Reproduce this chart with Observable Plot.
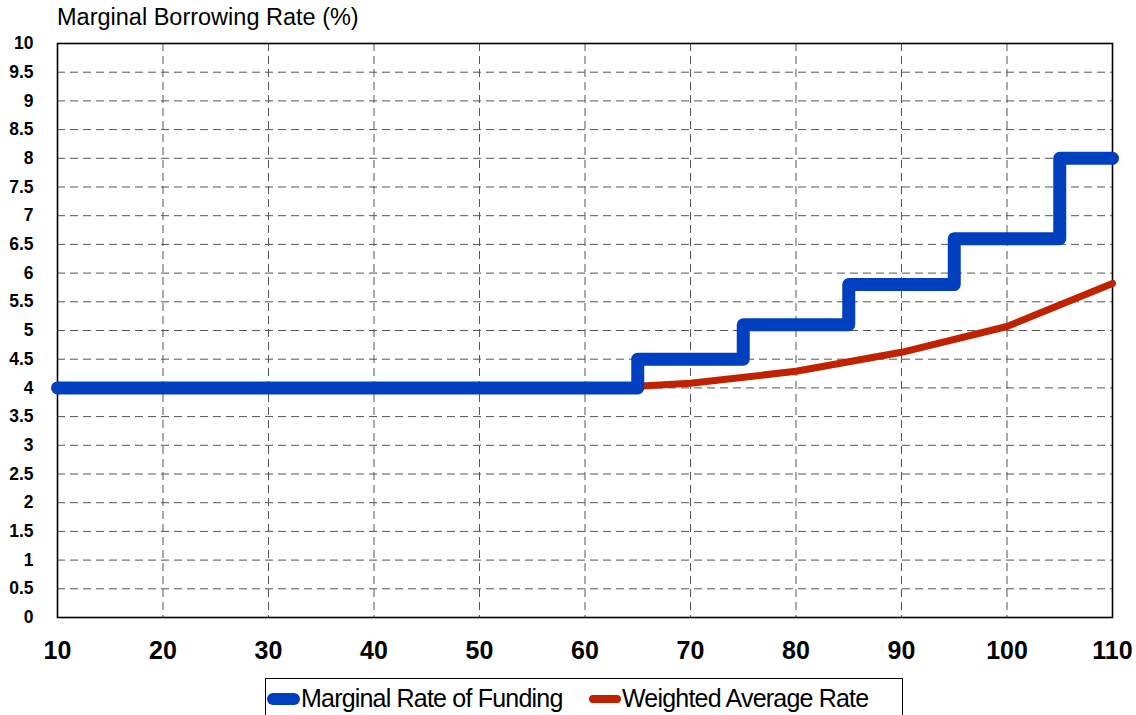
<!DOCTYPE html>
<html>
<head>
<meta charset="utf-8">
<script src="https://cdn.jsdelivr.net/npm/d3@7"></script>
<script src="https://cdn.jsdelivr.net/npm/@observablehq/plot@0.6"></script>
<style>
  html, body { margin: 0; padding: 0; background: #fff; }
  body { width: 1136px; height: 715px; position: relative; overflow: hidden; font-family: "Liberation Sans", Arial, sans-serif; }
  #title { position: absolute; left: 57px; top: 4px; font-size: 23.5px; color: #000; white-space: nowrap; }
  #chart { position: absolute; left: 0; top: 0; }
  #legend { position: absolute; left: 265px; top: 678px; width: 638px; height: 45px; border: 1.5px solid #000; box-sizing: border-box; background: #fff; }
  .item { position: absolute; top: 5px; display: flex; align-items: center; font-size: 25px; letter-spacing: -0.8px; white-space: nowrap; color: #000; }
  .sw { display: inline-block; border-radius: 8px; margin-right: 1px; }
</style>
</head>
<body>
<div id="title">Marginal Borrowing Rate (%)</div>
<div id="chart"></div>
<div id="legend">
  <div class="item" style="left:1px"><span class="sw" style="width:33px;height:12px;background:#0040BF"></span>Marginal Rate of Funding</div>
  <div class="item" style="left:323px"><span class="sw" style="width:32px;height:8px;background:#C02200"></span>Weighted Average Rate</div>
</div>
<script>
// Marginal rate of funding (step function)
const marginalX = [10, 65, 75, 85, 95, 105, 110];
const marginalY = [4, 4.5, 5.1, 5.8, 6.6, 8, 8];
// Weighted average rate
const avgX = [65, 70, 80, 90, 100, 110];
const avgY = [4.03, 4.08, 4.29, 4.62, 5.07, 5.82];
// Tick labels
const xTicks = [10, 20, 30, 40, 50, 60, 70, 80, 90, 100, 110];
const yTicks = [0, 0.5, 1, 1.5, 2, 2.5, 3, 3.5, 4, 4.5, 5, 5.5, 6, 6.5, 7, 7.5, 8, 8.5, 9, 9.5, 10];

const marginal = marginalX.map((x, i) => ({x, y: marginalY[i]}));
const avg = avgX.map((x, i) => ({x, y: avgY[i]}));

const chart = Plot.plot({
  width: 1136,
  height: 670,
  marginLeft: 57,
  marginRight: 24,
  marginTop: 43,
  marginBottom: 53,
  style: {fontFamily: '"Liberation Sans", Arial, sans-serif', background: "transparent", overflow: "visible"},
  x: {domain: [10, 110]},
  y: {domain: [0, 10]},
  marks: [
    Plot.gridX(xTicks.filter(d => d > 10 && d < 110), {stroke: "#555", strokeOpacity: 1, strokeWidth: 1, strokeDasharray: "8,5"}),
    Plot.gridY(yTicks.filter(d => d > 0 && d < 10), {stroke: "#555", strokeOpacity: 1, strokeWidth: 1, strokeDasharray: "8,5"}),
    Plot.frame({stroke: "#000", strokeWidth: 1.6}),
    Plot.axisX(xTicks, {tickSize: 0, tickPadding: 24, fontSize: 25, fontWeight: "bold", letterSpacing: -1, label: null, tickFormat: d => String(d), fill: "#000"}),
    Plot.axisY(yTicks, {tickSize: 0, tickPadding: 24, fontSize: 17.5, fontWeight: "bold", label: null, tickFormat: d => String(d), fill: "#000"}),
    Plot.line(avg, {x: "x", y: "y", stroke: "#C02200", strokeWidth: 7, strokeLinecap: "round", strokeLinejoin: "round"}),
    Plot.line(marginal, {x: "x", y: "y", curve: "step-after", stroke: "#0040BF", strokeWidth: 13, strokeLinecap: "round", strokeLinejoin: "round"})
  ]
});
document.getElementById("chart").appendChild(chart);
</script>
</body>
</html>
